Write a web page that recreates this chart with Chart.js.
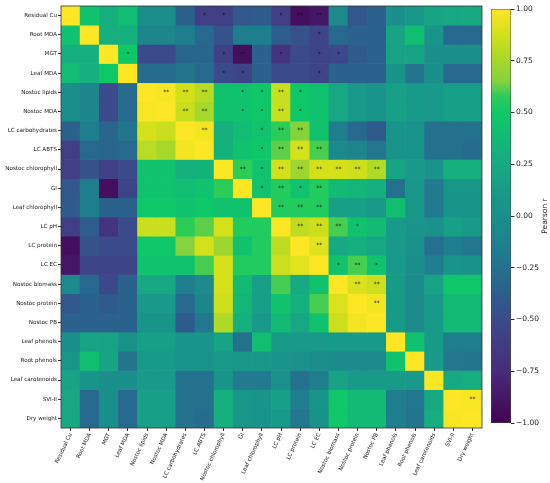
<!DOCTYPE html>
<html>
<head>
<meta charset="utf-8">
<script src="https://cdn.jsdelivr.net/npm/chart.js@4"></script>
<style>
  html, body { margin: 0; padding: 0; background: #fff; }
  #wrap { position: relative; width: 550px; height: 483px; }
  #heat { position: absolute; left: 0; top: 0; width: 486px; height: 483px; }
  #cbar { position: absolute; left: 486px; top: 0; width: 64px; height: 483px; }
</style>
</head>
<body>
<div id="wrap">
  <div id="heat"><canvas id="heatCanvas"></canvas></div>
  <div id="cbar"><canvas id="cbarCanvas"></canvas></div>
</div>
<script>
// variables, same order on both axes (top row = first)
const varLabels = ["Residual Cu", "Root MDA", "MGT", "Leaf MDA", "Nostoc lipids", "Nostoc MDA",
  "LC carbohydrates", "LC ABTS", "Nostoc chlorophyll", "GI", "Leaf chlorophyll", "LC pH",
  "LC protein", "LC EC", "Nostoc biomass", "Nostoc protein", "Nostoc PB", "Leaf phenols",
  "Root phenols", "Leaf carotenoids", "SVI-II", "Dry weight"];

// Pearson r
const corr = [
  [1, 0.45, 0.30, 0.40, -0.02, -0.02, -0.35, -0.60, -0.60, -0.42, -0.40, -0.60, -0.92, -0.88, -0.05, -0.42, -0.35, 0.00, 0.08, 0.20, 0.22, 0.25],
  [0.45, 1, 0.30, 0.30, -0.08, -0.08, -0.15, -0.30, -0.45, -0.15, -0.15, -0.38, -0.45, -0.55, -0.30, -0.35, -0.35, 0.20, 0.42, 0.05, -0.30, -0.30],
  [0.30, 0.30, 1, 0.50, -0.50, -0.50, -0.32, -0.32, -0.58, -0.92, -0.35, -0.68, -0.50, -0.55, -0.52, -0.40, -0.35, 0.18, 0.20, 0.00, 0.00, 0.00],
  [0.40, 0.30, 0.50, 1, -0.28, -0.28, -0.22, -0.30, -0.50, -0.55, -0.35, -0.50, -0.50, -0.55, -0.35, -0.35, -0.35, 0.03, -0.22, 0.00, -0.30, -0.30],
  [-0.02, -0.08, -0.50, -0.28, 1, 0.98, 0.88, 0.80, 0.45, 0.45, 0.50, 0.85, 0.50, 0.45, 0.22, 0.10, 0.05, 0.15, 0.12, 0.10, 0.15, 0.15],
  [-0.02, -0.08, -0.50, -0.28, 0.98, 1, 0.85, 0.75, 0.45, 0.45, 0.50, 0.85, 0.50, 0.45, 0.22, 0.10, 0.05, 0.15, 0.12, 0.10, 0.15, 0.15],
  [-0.35, -0.15, -0.32, -0.22, 0.88, 0.85, 1, 0.97, 0.30, 0.40, 0.45, 0.58, 0.65, 0.45, -0.15, -0.30, -0.40, 0.05, 0.05, -0.25, -0.25, -0.25],
  [-0.60, -0.30, -0.32, -0.30, 0.80, 0.75, 0.97, 1, 0.32, 0.45, 0.50, 0.62, 0.88, 0.60, -0.05, -0.08, -0.20, 0.05, 0.05, -0.25, -0.25, -0.28],
  [-0.60, -0.45, -0.58, -0.50, 0.45, 0.45, 0.30, 0.32, 1, 0.58, 0.45, 0.88, 0.72, 0.88, 0.88, 0.86, 0.78, 0.20, 0.10, 0.05, 0.30, 0.30],
  [-0.42, -0.15, -0.92, -0.55, 0.45, 0.45, 0.40, 0.45, 0.58, 1, 0.45, 0.55, 0.45, 0.55, 0.38, 0.35, 0.30, -0.25, 0.08, -0.18, 0.08, 0.08],
  [-0.40, -0.15, -0.35, -0.35, 0.50, 0.50, 0.45, 0.50, 0.45, 0.45, 1, 0.55, 0.55, 0.55, 0.15, 0.15, 0.10, 0.42, 0.08, -0.18, 0.05, 0.05],
  [-0.60, -0.38, -0.68, -0.50, 0.85, 0.85, 0.58, 0.62, 0.88, 0.55, 0.55, 1, 0.82, 0.86, 0.60, 0.45, 0.38, 0.12, 0.05, 0.02, 0.15, 0.12],
  [-0.92, -0.45, -0.50, -0.50, 0.50, 0.50, 0.65, 0.88, 0.72, 0.45, 0.55, 0.82, 1, 0.92, 0.25, 0.30, 0.22, 0.10, 0.02, -0.25, -0.15, -0.20],
  [-0.88, -0.55, -0.55, -0.55, 0.45, 0.45, 0.45, 0.60, 0.88, 0.55, 0.55, 0.86, 0.92, 1, 0.45, 0.60, 0.45, 0.10, -0.02, -0.15, 0.05, 0.03],
  [-0.05, -0.30, -0.52, -0.35, 0.22, 0.22, -0.15, -0.05, 0.88, 0.38, 0.15, 0.60, 0.25, 0.45, 1, 0.90, 0.86, 0.12, -0.03, 0.18, 0.48, 0.48],
  [-0.42, -0.35, -0.40, -0.35, 0.10, 0.10, -0.30, -0.08, 0.86, 0.35, 0.15, 0.45, 0.30, 0.60, 0.90, 1, 0.97, 0.12, -0.03, 0.12, 0.38, 0.38],
  [-0.35, -0.35, -0.35, -0.35, 0.05, 0.05, -0.40, -0.20, 0.78, 0.30, 0.10, 0.38, 0.22, 0.45, 0.86, 0.97, 1, 0.12, -0.03, 0.12, 0.38, 0.38],
  [0.00, 0.20, 0.18, 0.03, 0.15, 0.15, 0.05, 0.05, 0.20, -0.25, 0.42, 0.12, 0.10, 0.10, 0.12, 0.12, 0.12, 1, 0.45, 0.12, -0.15, -0.15],
  [0.08, 0.42, 0.20, -0.22, 0.12, 0.12, 0.05, 0.05, 0.10, 0.08, 0.08, 0.05, 0.02, -0.02, -0.03, -0.03, -0.03, 0.45, 1, 0.10, -0.20, -0.22],
  [0.20, 0.05, 0.00, 0.00, 0.10, 0.10, -0.25, -0.25, 0.05, -0.18, -0.18, 0.02, -0.25, -0.15, 0.18, 0.12, 0.12, 0.12, 0.10, 1, 0.25, 0.28],
  [0.22, -0.30, 0.00, -0.30, 0.15, 0.15, -0.25, -0.25, 0.30, 0.08, 0.05, 0.15, -0.15, 0.05, 0.48, 0.38, 0.38, -0.15, -0.20, 0.25, 1, 0.98],
  [0.25, -0.30, 0.00, -0.30, 0.15, 0.15, -0.25, -0.28, 0.30, 0.08, 0.05, 0.12, -0.20, 0.03, 0.48, 0.38, 0.38, -0.15, -0.22, 0.28, 0.98, 1]
];

// significance stars [row, col, mark] (upper triangle only)
const sigMarks = [
  [0, 7, "*"], [0, 8, "*"], [0, 11, "*"], [0, 12, "**"], [0, 13, "**"],
  [1, 13, "*"],
  [2, 3, "*"], [2, 8, "*"], [2, 9, "**"], [2, 11, "*"], [2, 13, "*"], [2, 14, "*"],
  [3, 8, "*"], [3, 9, "*"], [3, 13, "*"],
  [4, 5, "**"], [4, 6, "**"], [4, 7, "**"], [4, 9, "*"], [4, 10, "*"], [4, 11, "**"], [4, 12, "*"],
  [5, 6, "**"], [5, 7, "**"], [5, 9, "*"], [5, 10, "*"], [5, 11, "**"], [5, 12, "*"],
  [6, 7, "**"], [6, 10, "*"], [6, 11, "**"], [6, 12, "**"],
  [7, 10, "*"], [7, 11, "**"], [7, 12, "**"], [7, 13, "**"],
  [8, 9, "**"], [8, 10, "*"], [8, 11, "**"], [8, 12, "**"], [8, 13, "**"], [8, 14, "**"], [8, 15, "**"], [8, 16, "**"],
  [9, 10, "*"], [9, 11, "**"], [9, 12, "*"], [9, 13, "**"],
  [10, 11, "**"], [10, 12, "**"], [10, 13, "**"],
  [11, 12, "**"], [11, 13, "**"], [11, 14, "**"], [11, 15, "*"],
  [12, 13, "**"],
  [13, 14, "*"], [13, 15, "**"], [13, 16, "*"],
  [14, 15, "**"], [14, 16, "**"],
  [15, 16, "**"],
  [20, 21, "**"]
];

const cbarTicks = [-1, -0.75, -0.5, -0.25, 0, 0.25, 0.5, 0.75, 1];

// colour map (viridis-like, as in the picture)
const cmapStops = [
  [-1, "#440154"], [-0.75, "#472c7a"], [-0.5, "#3b4a8a"], [-0.375, "#2c5e8d"],
  [-0.25, "#24718e"], [-0.125, "#1e818d"], [0, "#1a8f8b"], [0.125, "#179c88"],
  [0.25, "#17aa82"], [0.375, "#12b976"], [0.5, "#0ec867"], [0.58, "#2ccc58"],
  [0.65, "#84d23c"], [0.75, "#a6d82a"], [0.875, "#d2e01a"], [1, "#fde725"]
];

function hexRgb(h) {
  return [parseInt(h.slice(1, 3), 16), parseInt(h.slice(3, 5), 16), parseInt(h.slice(5, 7), 16)];
}

function colorFor(v) {
  for (let i = 1; i < cmapStops.length; i++) {
    if (v <= cmapStops[i][0]) {
      const [v0, c0] = cmapStops[i - 1];
      const [v1, c1] = cmapStops[i];
      const t = (v - v0) / (v1 - v0);
      const a = hexRgb(c0), b = hexRgb(c1);
      return "rgb(" + a.map((x, k) => Math.round(x + (b[k] - x) * t)).join(",") + ")";
    }
  }
  return cmapStops[cmapStops.length - 1][1];
}

Chart.defaults.font.family = "'DejaVu Sans', sans-serif";
Chart.defaults.color = "#222";

// one stacked dataset per row, each cell one unit tall
const rowSets = corr.map((row, r) => ({
  label: varLabels[r],
  data: row.map(() => 1),
  backgroundColor: row.map(colorFor),
  borderWidth: 0,
  barPercentage: 1,
  categoryPercentage: 1
}));

const framePlugin = {
  id: "frame",
  afterDatasetsDraw(chart) {
    const { ctx, chartArea, scales } = chart;
    ctx.save();
    ctx.fillStyle = "#111";
    ctx.font = "6px 'DejaVu Sans'";
    ctx.textAlign = "center";
    ctx.textBaseline = "middle";
    sigMarks.forEach(([r, c, m]) => {
      ctx.fillText(m, scales.x.getPixelForValue(c), scales.y.getPixelForValue(r + 0.5));
    });
    ctx.strokeStyle = "#333";
    ctx.lineWidth = 0.8;
    ctx.strokeRect(chartArea.left, chartArea.top, chartArea.right - chartArea.left, chartArea.bottom - chartArea.top);
    ctx.restore();
  }
};

new Chart("heatCanvas", {
  type: "bar",
  data: { labels: varLabels, datasets: rowSets },
  options: {
    responsive: true,
    maintainAspectRatio: false,
    animation: false,
    layout: { padding: { top: 6, right: 4, left: 0, bottom: 0 } },
    plugins: { legend: { display: false }, tooltip: { enabled: false } },
    scales: {
      x: {
        stacked: true,
        grid: { display: true, drawOnChartArea: false, drawTicks: true, tickLength: 3, offset: false, color: "#333" },
        border: { display: false },
        ticks: { autoSkip: false, maxRotation: 65, minRotation: 65, padding: 1, font: { size: 5.6 } },
        afterFit(s) { s.height = 55; }
      },
      y: {
        type: "linear",
        stacked: true,
        reverse: true,
        min: 0,
        max: 22,
        grid: { display: true, drawOnChartArea: false, drawTicks: true, tickLength: 3, color: "#333" },
        border: { display: false },
        afterBuildTicks(s) { s.ticks = varLabels.map((_, i) => ({ value: i + 0.5 })); },
        ticks: { autoSkip: false, padding: 1, font: { size: 5.6 }, callback: (v, i) => varLabels[i] },
        afterFit(s) { s.width = 61; }
      }
    }
  },
  plugins: [framePlugin]
});

// colour bar
const cbarTitle = {
  id: "cbarTitle",
  afterDraw(chart) {
    const { ctx, chartArea } = chart;
    ctx.save();
    ctx.translate(59, (chartArea.top + chartArea.bottom) / 2);
    ctx.rotate(-Math.PI / 2);
    ctx.fillStyle = "#222";
    ctx.font = "7.5px 'DejaVu Sans'";
    ctx.textAlign = "center";
    ctx.textBaseline = "middle";
    ctx.fillText("Pearson r", 0, 0);
    ctx.restore();
  }
};

new Chart("cbarCanvas", {
  type: "bar",
  data: {
    labels: ["r"],
    datasets: [{
      data: [[cbarTicks[0], cbarTicks[cbarTicks.length - 1]]],
      backgroundColor(c) {
        const area = c.chart.chartArea;
        if (!area) return "#1a8f8b";
        const g = c.chart.ctx.createLinearGradient(0, area.bottom, 0, area.top);
        cmapStops.forEach(([v, col]) => g.addColorStop((v + 1) / 2, col));
        return g;
      },
      borderColor: "#444",
      borderWidth: 0.8,
      borderSkipped: false,
      barPercentage: 1,
      categoryPercentage: 1
    }]
  },
  options: {
    responsive: true,
    maintainAspectRatio: false,
    animation: false,
    layout: { padding: { top: 9, left: 5, right: 0, bottom: 60 } },
    plugins: { legend: { display: false }, tooltip: { enabled: false } },
    scales: {
      x: { display: false },
      y: {
        position: "right",
        min: -1,
        max: 1,
        grid: { display: true, drawOnChartArea: false, drawTicks: true, tickLength: 3.5, color: "#333" },
        border: { display: false },
        afterBuildTicks(s) { s.ticks = cbarTicks.map(v => ({ value: v })); },
        ticks: { padding: 1.5, font: { size: 7.5 }, callback: v => v.toFixed(2).replace("-", "\u2212") },
        afterFit(s) { s.width = 39; }
      }
    }
  },
  plugins: [cbarTitle]
});
</script>
</body>
</html>
